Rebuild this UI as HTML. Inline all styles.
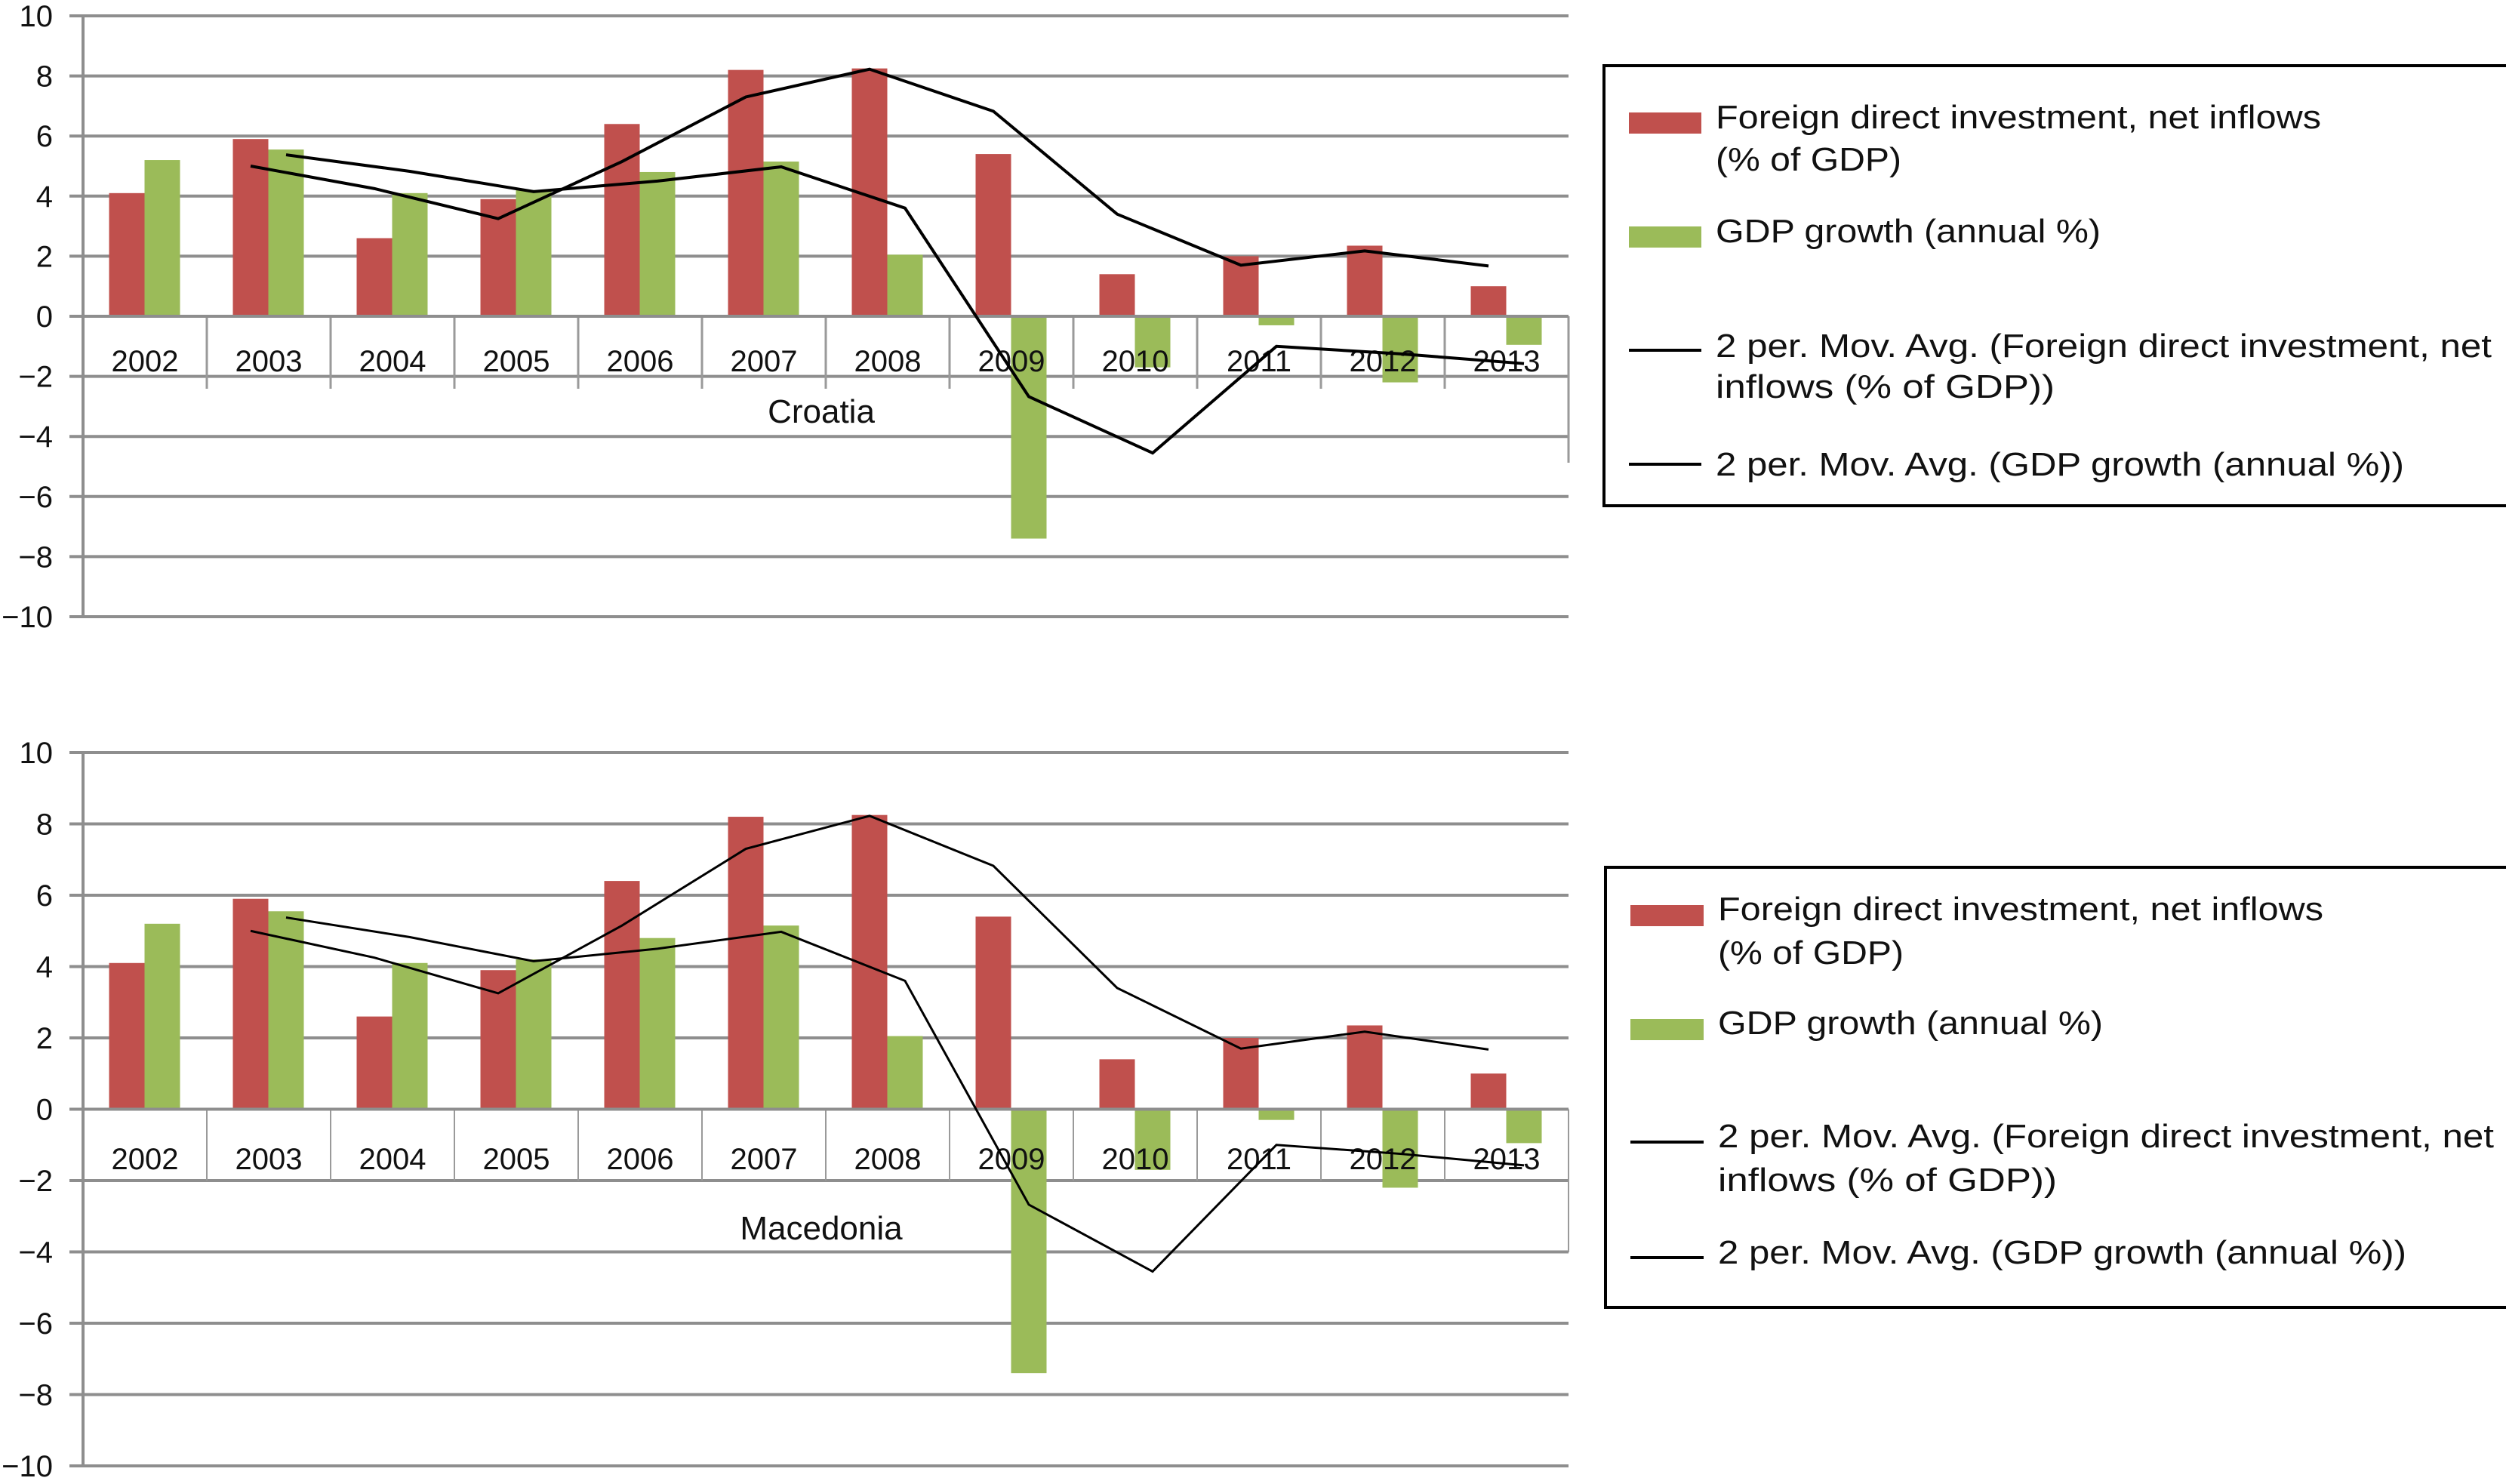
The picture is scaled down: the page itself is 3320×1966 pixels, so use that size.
<!DOCTYPE html>
<html><head><meta charset="utf-8"><style>
html,body{margin:0;padding:0;background:#fff;}
svg{display:block;font-family:"Liberation Sans",sans-serif;}
</style></head><body>
<svg id="chart" width="3320" height="1966" viewBox="0 0 3320 1966"></svg>
<script>
const years = ["2002","2003","2004","2005","2006","2007","2008","2009","2010","2011","2012","2013"];
const fdiValues = [4.1, 5.9, 2.6, 3.9, 6.4, 8.2, 8.25, 5.4, 1.4, 2.0, 2.35, 1.0];
const gdpValues = [5.2, 5.55, 4.1, 4.2, 4.8, 5.15, 2.05, -7.4, -1.7, -0.3, -2.2, -0.95];
const yTicks = [10, 8, 6, 4, 2, 0, -2, -4, -6, -8, -10];
const countries = ["Croatia", "Macedonia"];

const NS = "http://www.w3.org/2000/svg";
const svg = document.getElementById("chart");
function mk(tag, attrs, parent) {
  const e = document.createElementNS(NS, tag);
  for (const k in attrs) e.setAttribute(k, attrs[k]);
  (parent || svg).appendChild(e);
  return e;
}
function movAvg(arr) { const r = []; for (let i = 1; i < arr.length; i++) r.push((arr[i] + arr[i - 1]) / 2); return r; }
const fdiMA = movAvg(fdiValues);
const gdpMA = movAvg(gdpValues);

const panels = [
  {top: 21, bottom: 817, catBottom: 515, labelY: 492, titleY: 560, rightLineEnd: 613, lw: 4,
   legend: {x: 2125, y: 87, w: 1210, h: 583, tx: 2273, sx: 2158, sw: 96,
     redY: 149, greenY: 300, l1: 464, l2: 615,
     texts: [[170, "Foreign direct investment, net inflows", 802], [226, "(% of GDP)", 246], [321, "GDP growth (annual %)", 510],
             [473, "2 per. Mov. Avg. (Foreign direct investment, net", 1028], [527, "inflows (% of GDP))", 449], [630, "2 per. Mov. Avg. (GDP growth (annual %))", 912]]}},
  {top: 997, bottom: 1942, catBottom: 1564, labelY: 1549, titleY: 1642, rightLineEnd: 1659, lw: 3,
   legend: {x: 2127, y: 1149, w: 1210, h: 583, tx: 2276, sx: 2160, sw: 97,
     redY: 1199, greenY: 1350, l1: 1513, l2: 1666,
     texts: [[1219, "Foreign direct investment, net inflows", 802], [1277, "(% of GDP)", 246], [1370, "GDP growth (annual %)", 510],
             [1520, "2 per. Mov. Avg. (Foreign direct investment, net", 1028], [1578, "inflows (% of GDP))", 449], [1674, "2 per. Mov. Avg. (GDP growth (annual %))", 912]]}}
];

const X0 = 110, CW = 164, BW = 47, BOFF = 34.5;
const plotRight = X0 + CW * years.length;

panels.forEach((p, pi) => {
  const g = mk("g", {});
  
  
  const unit = (p.bottom - p.top) / 20;
  const y = v => p.top + (10 - v) * unit;
  const y0 = y(0);
  yTicks.forEach(t => {
    const ln = mk("line", {x1: X0 - 18, x2: plotRight, y1: y(t), y2: y(t), stroke: "#8e8e8e", "stroke-width": 4}, g);
    
    
    const tx = mk("text", {x: 70, y: y(t) + 14, "text-anchor": "end", "font-size": 40, fill: "#111"}, g);
    tx.textContent = t < 0 ? "\u2212" + Math.abs(t) : String(t);
    
    
  });
  const ya = mk("line", {x1: X0, x2: X0, y1: p.top, y2: p.bottom, stroke: "#8e8e8e", "stroke-width": 4}, g);
  
  
  for (let i = 1; i <= years.length; i++) {
    const cx = X0 + i * CW;
    const sep = mk("line", {x1: cx, x2: cx, y1: y0, y2: i === years.length ? p.rightLineEnd : p.catBottom, stroke: "#9a9a9a", "stroke-width": pi === 0 ? 3 : 2}, g);
    
    
  }
  years.forEach((yr, i) => {
    const bx = X0 + i * CW + BOFF;
    const f = fdiValues[i], gd = gdpValues[i];
    const r = mk("rect", {x: bx, y: Math.min(y(f), y0), width: BW, height: Math.abs(y(f) - y0), fill: "#c0504d"}, g);
    
    
    const gr = mk("rect", {x: bx + BW, y: Math.min(y(gd), y0), width: BW, height: Math.abs(y(gd) - y0), fill: "#9bbb59"}, g);
    
    
  });
  const xa = mk("line", {x1: X0, x2: plotRight, y1: y0, y2: y0, stroke: "#8e8e8e", "stroke-width": 4}, g);
  
  
  years.forEach((yr, i) => {
    const t = mk("text", {x: X0 + i * CW + CW / 2, y: p.labelY, "text-anchor": "middle", "font-size": 40, fill: "#111"}, g);
    t.textContent = yr;
    
    
  });
  const fPts = fdiMA.map((v, i) => (X0 + (i + 1) * CW + BOFF + BW / 2) + "," + y(v)).join(" ");
  const gPts = gdpMA.map((v, i) => (X0 + (i + 1) * CW + BOFF + BW * 1.5) + "," + y(v)).join(" ");
  const l1 = mk("polyline", {points: fPts, fill: "none", stroke: "#000", "stroke-width": p.lw}, g);
  
  
  const l2 = mk("polyline", {points: gPts, fill: "none", stroke: "#000", "stroke-width": p.lw}, g);
  
  
  const ti = mk("text", {x: 1088, y: p.titleY, "text-anchor": "middle", "font-size": 44, fill: "#111"}, g);
  ti.textContent = countries[pi];
  
  
  const L = p.legend;
  const lg = mk("g", {}, g);
  
  
  mk("rect", {x: L.x, y: L.y, width: L.w, height: L.h, fill: "#fff", stroke: "#000", "stroke-width": 4}, lg);
  const s1 = mk("rect", {x: L.sx, y: L.redY, width: L.sw, height: 28, fill: "#c0504d"}, lg);
  
  
  const s2 = mk("rect", {x: L.sx, y: L.greenY, width: L.sw, height: 28, fill: "#9bbb59"}, lg);
  
  
  const s3 = mk("line", {x1: L.sx, x2: L.sx + L.sw, y1: L.l1, y2: L.l1, stroke: "#000", "stroke-width": 4}, lg);
  
  
  const s4 = mk("line", {x1: L.sx, x2: L.sx + L.sw, y1: L.l2, y2: L.l2, stroke: "#000", "stroke-width": 4}, lg);
  
  
  L.texts.forEach(([ty, str, w]) => {
    const attrs = {x: L.tx, y: ty, "font-size": 44, fill: "#111"};
    if (w) { attrs.textLength = w; attrs.lengthAdjust = "spacingAndGlyphs"; }
    const t = mk("text", attrs, lg);
    t.textContent = str;
    
    
  });
});
</script>
</body></html>
